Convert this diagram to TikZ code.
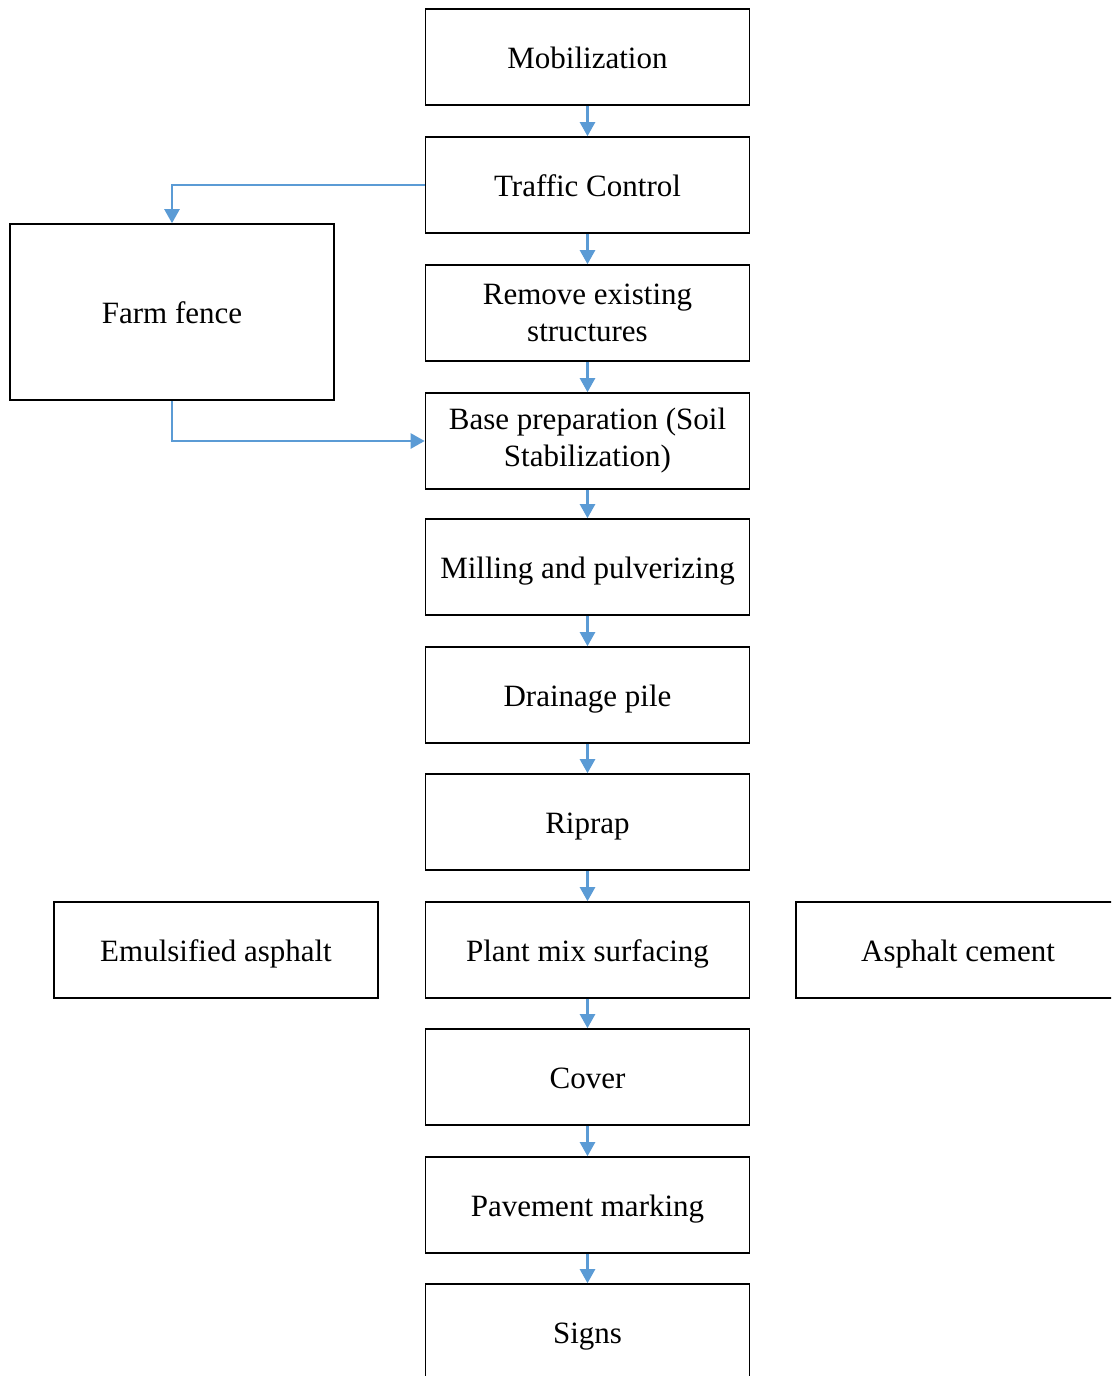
\documentclass[tikz,border=0pt]{standalone}
\usepackage{fontspec}
\setmainfont{Liberation Serif}
\usetikzlibrary{arrows.meta}
\definecolor{flowblue}{HTML}{5B9BD5}
\begin{document}
\begin{tikzpicture}[x=1pt,y=-1pt,
  stepbox/.style={draw=black,line width=1.6pt,minimum width=324pt,minimum height=96pt,
    inner sep=0pt,align=center,
    font=\fontsize{31}{37}\selectfont},
  oneline/.style={text height=22pt,text depth=0pt},
  flow/.style={draw=flowblue,line width=2.4pt,
    -{Triangle[width=15pt,length=14pt]}}]
\useasboundingbox (0,0) rectangle (1111,1376);
\begin{scope}
\clip (0,0) rectangle (1111,1376);
\node[stepbox,oneline] (mob)   at (587.5,57)   {Mobilization};
\node[stepbox,oneline] (tc)    at (587.5,185)  {Traffic Control};
\node[stepbox] (rem)   at (587.5,313)  {Remove existing\\structures};
\node[stepbox] (base)  at (587.5,441)  {Base preparation (Soil\\Stabilization)};
\node[stepbox,oneline] (mill)  at (587.5,567)  {Milling and pulverizing};
\node[stepbox,oneline] (drain) at (587.5,695)  {Drainage pile};
\node[stepbox,oneline] (rip)   at (587.5,822)  {Riprap};
\node[stepbox,oneline] (plant) at (587.5,950)  {Plant mix surfacing};
\node[stepbox,oneline] (cover) at (587.5,1077) {Cover};
\node[stepbox,oneline] (pave)  at (587.5,1205) {Pavement marking};
\node[stepbox,oneline] (signs) at (587.5,1332) {Signs};
\node[stepbox,oneline,minimum height=176pt] (fence) at (172,312) {Farm fence};
\node[stepbox,oneline] (emul)  at (216,950)    {Emulsified asphalt};
\node[stepbox,oneline] (ac)    at (958,950)    {Asphalt cement};

\draw[flow] (mob) -- (tc);
\draw[flow] (tc) -- (rem);
\draw[flow] (rem) -- (base);
\draw[flow] (base) -- (mill);
\draw[flow] (mill) -- (drain);
\draw[flow] (drain) -- (rip);
\draw[flow] (rip) -- (plant);
\draw[flow] (plant) -- (cover);
\draw[flow] (cover) -- (pave);
\draw[flow] (pave) -- (signs);
\draw[flow] (tc.west) -| (fence.north);
\draw[flow] (fence.south) |- (base.west);
\end{scope}
\end{tikzpicture}
\end{document}
